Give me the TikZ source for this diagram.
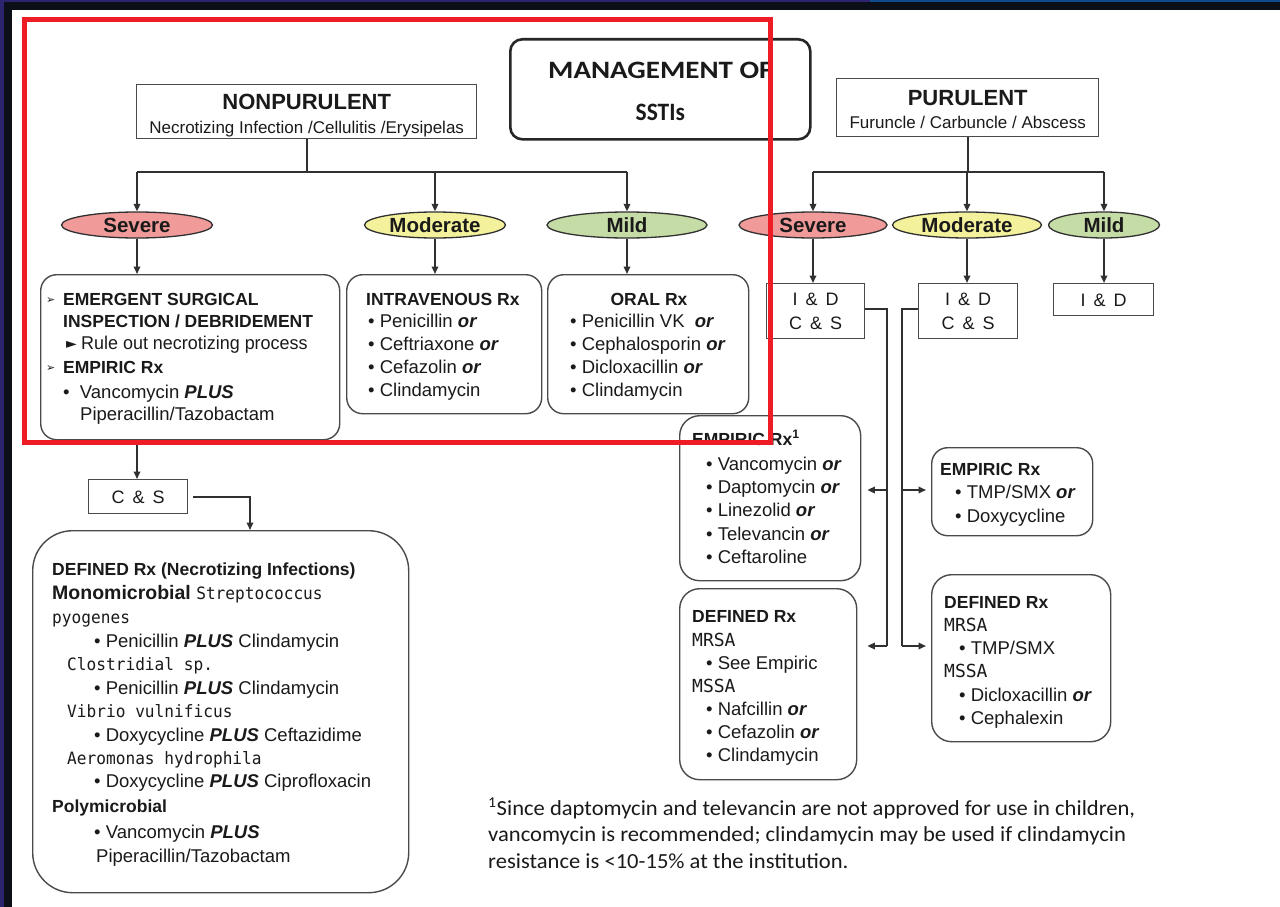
\documentclass[tikz,border=0pt]{standalone}
\usepackage{graphicx}
\usepackage{fontspec}
\setmainfont{Liberation Sans}
\newfontfamily\calfont{Carlito}
\newfontfamily\monofont{DejaVu Sans Mono}
\newfontfamily\djfont{DejaVu Sans}
\usetikzlibrary{arrows.meta,shapes.geometric}
\definecolor{navyblk}{HTML}{0B0F18}
\definecolor{navypur}{HTML}{2D2470}
\definecolor{navyblue}{HTML}{0F4C8C}
\definecolor{lnc}{HTML}{303030}
\definecolor{bxc}{HTML}{4A4A4A}
\definecolor{txc}{HTML}{1A1A1A}
\definecolor{redfr}{HTML}{EE1C25}
\definecolor{sevfill}{HTML}{F09A9A}
\definecolor{modfill}{HTML}{F4F19C}
\definecolor{mildfill}{HTML}{C6DCA6}
\newcommand{\fs}[2]{\fontsize{#1}{#2}\selectfont}
\newcommand{\hs}[2]{\scalebox{#1}[1]{#2}}
\newcommand{\bx}[6]{\node[#6, minimum width=#4pt-#2pt, minimum height=#5pt-#3pt, anchor=north west] (#1) at (#2,#3) {};}
\newcommand{\tl}[5][]{\node[tline,#1] (#2) at (#3,#4) {#5};}
\newcommand{\bul}{\textbullet\ }
\newcommand{\bor}{\textbf{\textit{or}}}
\newcommand{\plus}{\textbf{\textit{PLUS}}}
\newcommand{\mn}[1]{\hs{0.95}{#1}}
\tikzset{
  sqbox/.style={draw=bxc, line width=1.4pt, fill=white, inner sep=0pt},
  rbox/.style={draw=bxc, line width=1.4pt, fill=white, rounded corners=16pt, inner sep=0pt},
  tline/.style={anchor=base west, inner sep=0pt, text=txc, font=\fs{18.5}{22}},
  hline/.style={tline, font=\fs{17.5}{21}\bfseries},
  mline/.style={tline, font=\monofont\fs{17}{20}},
  cline/.style={anchor=base, inner sep=0pt, text=txc, font=\fs{18}{21}},
  oval/.style={ellipse, draw=lnc, line width=1.3pt, inner sep=0pt, minimum height=26pt, text=txc, font=\fs{20.5}{22}\bfseries},
  conn/.style={draw=lnc, line width=1.8pt},
  arr/.style={conn, -{Triangle[length=7.5pt,width=6.5pt]}},
}
\begin{document}
\begin{tikzpicture}[x=1pt,y=-1pt]
\useasboundingbox (0,0) rectangle (1280,907);
% frame
\fill[navyblk] (0,0) rectangle (1280,907);
\fill[white] (12,10) rectangle (1280,907);
\fill[navypur] (0,0) rectangle (4,907);
\fill[navypur] (0,0) rectangle (870,2.5);
\fill[navyblue] (870,0) rectangle (1280,2.5);

% ---------- boxes ----------
\bx{mgmt}{509}{38}{809}{138}{draw=black!85, line width=2.6pt, rounded corners=12pt, inner sep=0pt}
\bx{np}{136}{84}{476}{138}{sqbox}
\bx{pu}{836}{78}{1098}{136}{sqbox}
\bx{sevbox}{40}{274}{339}{439}{rbox}
\bx{ivbox}{346}{274}{541}{413}{rbox}
\bx{oralbox}{547}{274}{748}{413}{rbox}
\bx{id1}{766}{283}{864}{338}{sqbox}
\bx{id2}{918}{283}{1017}{338}{sqbox}
\bx{id3}{1053}{283}{1153}{315}{sqbox}
\bx{cs}{88}{479}{187}{513}{sqbox}
\bx{defbig}{32}{530}{408}{892}{rbox, rounded corners=40pt}
\bx{emp1}{679}{415}{860}{580}{rbox, rounded corners=20pt}
\bx{def1}{679}{588}{856}{779}{rbox, rounded corners=20pt}
\bx{emp2}{931}{447}{1092}{535}{rbox, rounded corners=16pt}
\bx{def2}{931}{574}{1110}{741}{rbox, rounded corners=20pt}

% ---------- ellipses ----------
\node[oval, fill=sevfill, minimum width=151pt] (sev1) at (137,225) {Severe};
\node[oval, fill=modfill, minimum width=141pt] (mod1) at (435,225) {Moderate};
\node[oval, fill=mildfill, minimum width=160pt] (mild1) at (627,225) {Mild};
\node[oval, fill=sevfill, minimum width=148pt] (sev2) at (813,225) {Severe};
\node[oval, fill=modfill, minimum width=149pt] (mod2) at (967,225) {Moderate};
\node[oval, fill=mildfill, minimum width=111pt] (mild2) at (1104,225) {Mild};

% ---------- title texts ----------
\node[cline, font=\calfont\fs{25}{28}\bfseries] (t1) at (mgmt.center |- 0,78) {\hs{1.16}{MANAGEMENT OF}};
\node[cline, font=\calfont\fs{25}{28}\bfseries] (t2) at (mgmt.center |- 0,120) {\hs{0.94}{SSTIs}};
\node[cline, font=\fs{22}{25}\bfseries] (npt) at (np.center |- 0,110) {NONPURULENT};
\node[cline, font=\fs{17}{20}] (nps) at (np.center |- 0,133) {Necrotizing Infection /Cellulitis /Erysipelas};
\node[cline, font=\fs{22}{25}\bfseries] (put) at (pu.center |- 0,106) {PURULENT};
\node[cline, font=\fs{17}{20}] (pus) at (pu.center |- 0,128) {Furuncle / Carbuncle / Abscess};

% ---------- severe nonpurulent box ----------
\tl[font=\djfont\fs{11}{13}]{s1a}{46}{303}{➢}
\tl[hline]{s1}{63}{305}{EMERGENT SURGICAL}
\tl[hline]{s2}{63}{327}{INSPECTION / DEBRIDEMENT}
\tl[font=\djfont\fs{14}{16}]{s3a}{66}{348}{►}
\tl{s3}{81}{349}{\hs{0.97}{Rule out necrotizing process}}
\tl[font=\djfont\fs{11}{13}]{s4a}{46}{371}{➢}
\tl[hline]{s4}{63}{373}{EMPIRIC Rx}
\tl{s5}{63}{398}{\textbullet\ \ Vancomycin \plus}
\tl{s6}{80}{420}{Piperacillin/Tazobactam}

% ---------- IV box ----------
\tl[hline]{iv0}{366}{305}{INTRAVENOUS Rx}
\tl{iv1}{368}{327}{\bul Penicillin \bor}
\tl{iv2}{368}{350}{\bul Ceftriaxone \bor}
\tl{iv3}{368}{373}{\bul Cefazolin \bor}
\tl{iv4}{368}{396}{\bul Clindamycin}

% ---------- oral box ----------
\node[cline, font=\fs{17.5}{21}\bfseries] (or0) at (649,305) {ORAL Rx};
\tl{or1}{570}{327}{\bul Penicillin VK\ \ \bor}
\tl{or2}{570}{350}{\bul Cephalosporin \bor}
\tl{or3}{570}{373}{\bul Dicloxacillin \bor}
\tl{or4}{570}{396}{\bul Clindamycin}

% ---------- I&D boxes ----------
\node[cline] (id1a) at (id1.center |- 0,305) {I\,\ \&\,\ D};
\node[cline] (id1b) at (id1.center |- 0,329) {C\,\ \&\,\ S};
\node[cline] (id2a) at (id2.center |- 0,305) {I\,\ \&\,\ D};
\node[cline] (id2b) at (id2.center |- 0,329) {C\,\ \&\,\ S};
\node[cline] (id3a) at (id3.center |- 0,306) {I\,\ \&\,\ D};
\node[cline] (csa) at (cs.center |- 0,503) {C\,\ \&\,\ S};

% ---------- defined big box ----------
\tl[hline]{d0}{52}{575}{DEFINED Rx (Necrotizing Infections)}
\tl[font=\fs{19.5}{22}\bfseries]{d1}{52}{599}{Monomicrobial {\monofont\mdseries\fs{17}{20}\mn{Streptococcus}}}
\tl[mline]{d2}{52}{623}{\mn{pyogenes}}
\tl{d3}{94}{647}{\bul Penicillin \plus\ Clindamycin}
\tl[mline]{d4}{67}{670}{\mn{Clostridial sp.}}
\tl{d5}{94}{694}{\bul Penicillin \plus\ Clindamycin}
\tl[mline]{d6}{67}{717}{\mn{Vibrio vulnificus}}
\tl{d7}{94}{741}{\bul Doxycycline \plus\ Ceftazidime}
\tl[mline]{d8}{67}{764}{\mn{Aeromonas\ hydrophila}}
\tl{d9}{94}{787}{\bul Doxycycline \plus\ Ciprofloxacin}
\tl[hline]{d10}{52}{812}{Polymicrobial}
\tl{d11}{94}{838}{\bul Vancomycin \plus}
\tl{d12}{96}{862}{Piperacillin/Tazobactam}

% ---------- empiric left ----------
\tl[hline]{e0}{692}{445}{EMPIRIC Rx\textsuperscript{1}}
\tl{e1}{706}{470}{\bul Vancomycin \bor}
\tl{e2}{706}{493}{\bul Daptomycin \bor}
\tl{e3}{706}{516}{\bul Linezolid \bor}
\tl{e4}{706}{540}{\bul Televancin \bor}
\tl{e5}{706}{563}{\bul Ceftaroline}

% ---------- defined left ----------
\tl[hline]{f0}{692}{622}{DEFINED Rx}
\tl[mline, font=\monofont\fs{18}{21}]{f1}{692}{646}{MRSA}
\tl{f2}{706}{669}{\bul See Empiric}
\tl[mline, font=\monofont\fs{18}{21}]{f3}{692}{692}{MSSA}
\tl{f4}{706}{715}{\bul Nafcillin \bor}
\tl{f5}{706}{738}{\bul Cefazolin \bor}
\tl{f6}{706}{761}{\bul Clindamycin}

% ---------- empiric right ----------
\tl[hline]{g0}{940}{475}{EMPIRIC Rx}
\tl{g1}{955}{498}{\bul TMP/SMX \bor}
\tl{g2}{955}{522}{\bul Doxycycline}

% ---------- defined right ----------
\tl[hline]{h0}{944}{608}{DEFINED Rx}
\tl[mline, font=\monofont\fs{18}{21}]{h1}{944}{631}{MRSA}
\tl{h2}{959}{654}{\bul TMP/SMX}
\tl[mline, font=\monofont\fs{18}{21}]{h3}{944}{677}{MSSA}
\tl{h4}{959}{701}{\bul Dicloxacillin \bor}
\tl{h5}{959}{724}{\bul Cephalexin}

% ---------- footnote ----------
\tl[font=\calfont\fs{21.5}{25}]{fn1}{488}{815}{\hs{1.05}{\textsuperscript{1}Since daptomycin and televancin are not approved for use in children,}}
\tl[font=\calfont\fs{21.5}{25}]{fn2}{488}{841}{\hs{1.05}{vancomycin is recommended; clindamycin may be used if clindamycin}}
\tl[font=\calfont\fs{21.5}{25}]{fn3}{488}{868}{\hs{1.05}{resistance is <10-15\% at the institution.}}

% ---------- connectors: nonpurulent ----------
\coordinate (npj) at (np.south |- 0,172);
\draw[conn] (np.south) -- (npj);
\draw[conn] (sev1.north |- npj) -- (mild1.north |- npj);
\draw[arr] (sev1.north |- npj) -- (sev1.north);
\draw[arr] (mod1.north |- npj) -- (mod1.north);
\draw[arr] (mild1.north |- npj) -- (mild1.north);
\draw[arr] (sev1.south) -- (sev1.south |- sevbox.north);
\draw[arr] (mod1.south) -- (mod1.south |- ivbox.north);
\draw[arr] (mild1.south) -- (mild1.south |- oralbox.north);
\draw[arr] (sevbox.south -| sev1) -- (cs.north -| sev1);
\coordinate (csj) at (250,0);
\draw[arr, shorten <=5pt] (cs.east) -| (defbig.north -| csj);

% ---------- connectors: purulent ----------
\coordinate (puj) at (pu.south |- 0,172);
\draw[conn] (pu.south) -- (puj);
\draw[conn] (sev2.north |- puj) -- (mild2.north |- puj);
\draw[arr] (sev2.north |- puj) -- (sev2.north);
\draw[arr] (mod2.north |- puj) -- (mod2.north);
\draw[arr] (mild2.north |- puj) -- (mild2.north);
\draw[arr] (sev2.south) -- (sev2.south |- id1.north);
\draw[arr] (mod2.south) -- (mod2.south |- id2.north);
\draw[arr] (mild2.south) -- (mild2.south |- id3.north);

\coordinate (v1t) at (887,309);
\coordinate (v1a) at (887,490);
\coordinate (v1b) at (887,646);
\coordinate (v2t) at (902,309);
\coordinate (v2a) at (902,490);
\coordinate (v2b) at (902,646);
\draw[conn] (id1.east |- v1t) -- (v1t) -- (v1b);
\draw[conn] (id2.west |- v2t) -- (v2t) -- (v2b);
\draw[arr, shorten >=6pt] (v1a) -- (emp1.east |- v1a);
\draw[arr, shorten >=10pt] (v1b) -- (def1.east |- v1b);
\draw[arr, shorten >=5pt] (v2a) -- (emp2.west |- v2a);
\draw[arr, shorten >=5pt] (v2b) -- (def2.west |- v2b);

% ---------- red highlight ----------
\draw[redfr, line width=5pt] (24,20) rectangle (770,442);
\end{tikzpicture}
\end{document}
